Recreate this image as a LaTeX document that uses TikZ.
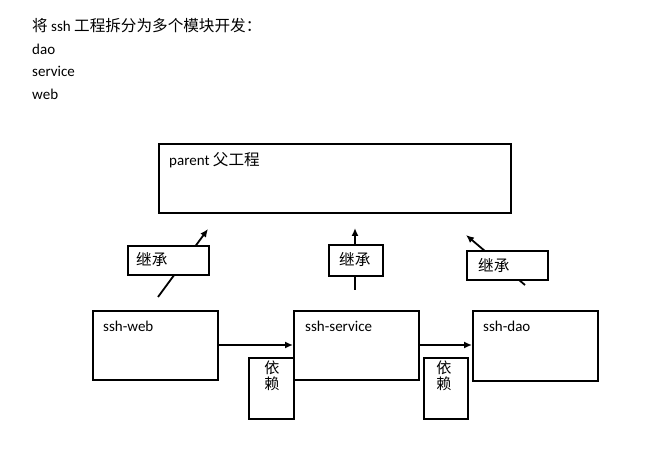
\documentclass[tikz,border=0pt]{standalone}
\usepackage{fontspec}
\setmainfont{Carlito}
\newfontfamily\cjkfont{Noto Sans CJK SC}[Scale=1.04]
\usetikzlibrary{arrows.meta}
\begin{document}
\begin{tikzpicture}[x=1pt,y=-1pt,
  box/.style={draw,line width=1.6pt,fill=white,inner sep=0pt,anchor=north west},
  txt/.style={anchor=base west,inner sep=0pt,font=\fontsize{15}{18}\selectfont},
  inh/.style={line width=1.8pt,-{Latex[length=8pt,width=7pt]}},
  dep/.style={line width=1.5pt,-{Latex[length=8pt,width=7pt]}}]
\useasboundingbox (0,0) rectangle (657,449);
% header text
\node[txt] (h1) at (32,32) {{\cjkfont 将} ssh {\cjkfont 工程拆分为多个模块开发：}};
\node[txt] (h2) at (32,55) {dao};
\node[txt] (h3) at (32,77) {service};
\node[txt] (h4) at (32,100) {web};
% parent
\node[box,minimum width=352pt,minimum height=69pt] (parent) at (158,143) {};
\node[txt] (ptxt) at (169,166) {parent {\cjkfont 父工程}};
% modules
\node[box,minimum width=125pt,minimum height=69pt] (web) at (92,310) {};
\node[txt] (webt) at (103,332) {ssh-web};
\node[box,minimum width=125pt,minimum height=69pt] (svc) at (293,310) {};
\node[txt] (svct) at (305,332) {ssh-service};
\node[box,minimum width=125pt,minimum height=70pt] (dao) at (472,310) {};
\node[txt] (daot) at (483,332) {ssh-dao};
% inherit arrows (behind labels)
\coordinate (a1s) at (158,297); \coordinate (a1e) at (208,229);
\coordinate (a2s) at (355,290); \coordinate (a2e) at (355,228);
\coordinate (a3s) at (525,285); \coordinate (a3e) at (466,235);
\draw[inh] (a1s) -- (a1e);
\draw[inh] (a2s) -- (a2e);
\draw[inh] (a3s) -- (a3e);
\node[box,minimum width=81pt,minimum height=29pt] (i1) at (127,245) {};
\node[txt] (i1t) at (136,266) {\cjkfont 继承};
\node[box,minimum width=54pt,minimum height=31pt] (i2) at (328,244) {};
\node[txt] (i2t) at (339,266) {\cjkfont 继承};
\node[box,minimum width=81pt,minimum height=29pt] (i3) at (466,250) {};
\node[txt] (i3t) at (478,272) {\cjkfont 继承};
% dependency arrows
\draw[dep] (web.east |- 0,345) -- (svc.west |- 0,345);
\draw[dep] (svc.east |- 0,345) -- (dao.west |- 0,345);
\node[box,minimum width=45pt,minimum height=61pt] (d1) at (248,357) {};
\node[anchor=north,inner sep=0pt,align=center,font=\fontsize{14.5}{16}\selectfont\cjkfont] (d1t) at (272,361) {依\\赖};
\node[box,minimum width=44pt,minimum height=61pt] (d2) at (423,357) {};
\node[anchor=north,inner sep=0pt,align=center,font=\fontsize{14.5}{16}\selectfont\cjkfont] (d2t) at (444,361) {依\\赖};
\end{tikzpicture}
\end{document}
